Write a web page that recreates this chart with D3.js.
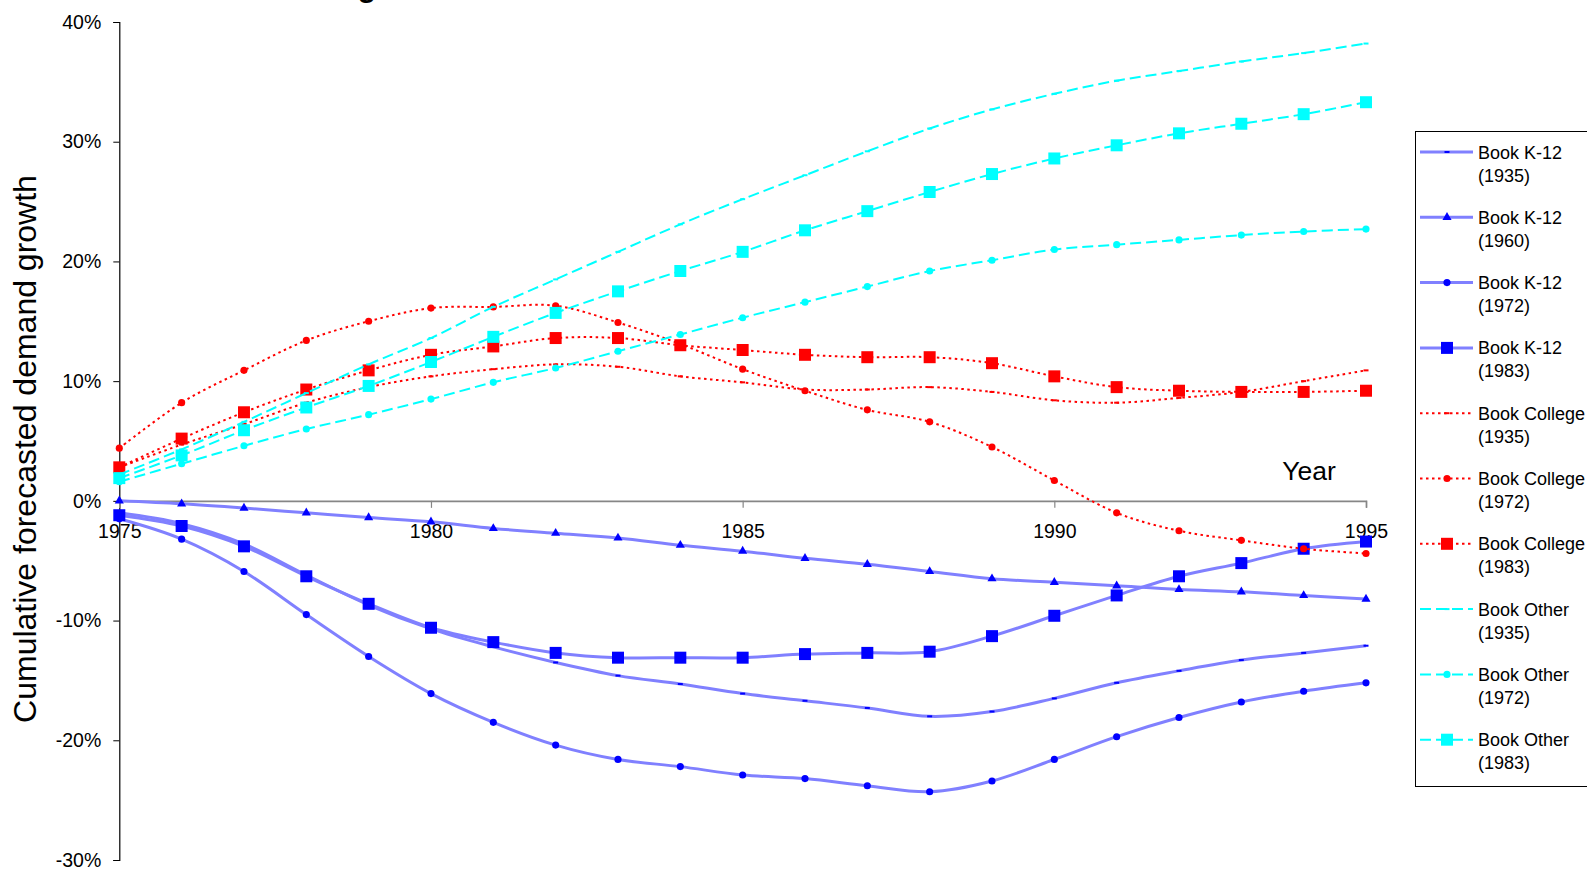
<!DOCTYPE html>
<html>
<head>
<meta charset="utf-8">
<script src="https://cdn.jsdelivr.net/npm/d3@7"></script>
<style>
  body { margin: 0; background: #fff; overflow: hidden; }
  text { font-family: "Liberation Sans", Arial, sans-serif; fill: #000; }
</style>
</head>
<body>
<svg id="chart" width="1587" height="869"></svg>
<script>
// ---- data (cumulative forecasted demand growth, %) ----
const years = [1975, 1976, 1977, 1978, 1979, 1980, 1981, 1982, 1983, 1984, 1985,
               1986, 1987, 1988, 1989, 1990, 1991, 1992, 1993, 1994, 1995];

const k12_1935 = [-1.0, -1.9, -3.6, -6.2, -8.7, -10.7, -12.2, -13.5, -14.6, -15.3, -16.1,
                  -16.7, -17.3, -18.0, -17.6, -16.5, -15.2, -14.2, -13.3, -12.7, -12.1];
const k12_1960 = [0.0, -0.25, -0.6, -1.0, -1.4, -1.75, -2.3, -2.7, -3.1, -3.7, -4.2,
                  -4.8, -5.3, -5.9, -6.5, -6.8, -7.1, -7.4, -7.6, -7.9, -8.2];
const k12_1972 = [-1.5, -3.2, -5.9, -9.5, -13.0, -16.1, -18.5, -20.4, -21.6, -22.2, -22.9,
                  -23.2, -23.8, -24.3, -23.4, -21.6, -19.7, -18.1, -16.8, -15.9, -15.2];
const k12_1983 = [-1.2, -2.1, -3.8, -6.3, -8.6, -10.6, -11.8, -12.7, -13.1, -13.1, -13.1,
                  -12.8, -12.7, -12.6, -11.3, -9.6, -7.9, -6.3, -5.2, -4.0, -3.4];
const college_1935 = [2.8, 4.7, 6.4, 8.2, 9.5, 10.4, 11.0, 11.4, 11.2, 10.4, 9.9,
                      9.3, 9.3, 9.5, 9.1, 8.4, 8.2, 8.6, 9.1, 10.0, 10.9];
const college_1972 = [4.4, 8.2, 10.9, 13.4, 15.0, 16.1, 16.2, 16.3, 14.9, 13.1, 11.0,
                      9.2, 7.6, 6.6, 4.5, 1.7, -1.0, -2.5, -3.3, -4.0, -4.4];
const college_1983 = [2.8, 5.2, 7.4, 9.3, 10.9, 12.2, 12.9, 13.6, 13.6, 13.0, 12.6,
                      12.2, 12.0, 12.0, 11.5, 10.4, 9.5, 9.2, 9.1, 9.1, 9.2];
const other_1935 = [2.2, 4.3, 6.6, 9.0, 11.4, 13.6, 16.2, 18.5, 20.8, 23.1, 25.2,
                    27.2, 29.2, 31.1, 32.7, 34.0, 35.1, 35.9, 36.7, 37.4, 38.2];
const other_1972 = [1.6, 3.1, 4.6, 6.0, 7.2, 8.5, 9.9, 11.1, 12.5, 13.9, 15.3,
                    16.6, 17.9, 19.2, 20.1, 21.0, 21.4, 21.8, 22.2, 22.5, 22.7];
const other_1983 = [1.9, 3.8, 5.9, 7.8, 9.6, 11.6, 13.7, 15.7, 17.5, 19.2, 20.8,
                    22.6, 24.2, 25.8, 27.3, 28.6, 29.7, 30.7, 31.5, 32.3, 33.3];

const seriesNames = ["Book K-12", "Book K-12", "Book K-12", "Book K-12",
                     "Book College", "Book College", "Book College",
                     "Book Other", "Book Other", "Book Other"];
const seriesVintages = ["(1935)", "(1960)", "(1972)", "(1983)",
                        "(1935)", "(1972)", "(1983)",
                        "(1935)", "(1972)", "(1983)"];
const seriesValues = [k12_1935, k12_1960, k12_1972, k12_1983,
                      college_1935, college_1972, college_1983,
                      other_1935, other_1972, other_1983];
const seriesGroup = ["k12", "k12", "k12", "k12", "college", "college", "college", "other", "other", "other"];
const seriesMarker = ["dash", "triangle", "circle", "square",
                      "dash", "circle", "square",
                      "dash", "circle", "square"];

const yTicks = [-30, -20, -10, 0, 10, 20, 30, 40];
const xTicks = [1975, 1980, 1985, 1990, 1995];

// ---- styles per group ----
const groupStyle = {
  k12:     { stroke: "#8080ff", width: 3, dash: null,      marker: "#0000ff" },
  college: { stroke: "#ff0000", width: 2, dash: "2.5,3.5", marker: "#ff0000" },
  other:   { stroke: "#00ffff", width: 2, dash: "11,5",    marker: "#00ffff" }
};

const svg = d3.select("#chart");

const x = d3.scaleLinear().domain([1975, 1995]).range([119.3, 1366]);
const y = d3.scaleLinear().domain([-30, 40]).range([860, 22]);

// title (sits mostly above the visible area)
svg.append("text")
  .attr("x", 376).attr("y", -3)
  .attr("text-anchor", "end")
  .style("font-size", "30px").style("font-weight", "bold")
  .text("Book demand forecasting");

// y axis
const yAxis = svg.append("g")
  .attr("transform", `translate(${x(1975)},0)`)
  .call(d3.axisLeft(y).tickValues(yTicks).tickFormat(d => d + "%").tickSize(6).tickPadding(12));
yAxis.select(".domain").attr("stroke", "#000").attr("stroke-width", 1.2);
yAxis.selectAll(".tick line").attr("stroke", "#000");
yAxis.selectAll("text").style("font-size", "19.5px").attr("font-family", null);

// x axis at 0%
const xAxis = svg.append("g")
  .attr("transform", `translate(0,${y(0)})`)
  .call(d3.axisBottom(x).tickValues(xTicks).tickFormat(d3.format("d")).tickSize(7));
xAxis.select(".domain").attr("stroke", "#868686").attr("stroke-width", 1.6);
xAxis.selectAll(".tick line").attr("stroke", "#868686").attr("stroke-width", 1.2);
xAxis.selectAll("text").attr("y", 37).attr("dy", 0).style("font-size", "19.5px").attr("font-family", null);

// axis titles
svg.append("text")
  .attr("transform", "translate(36,449) rotate(-90)")
  .attr("text-anchor", "middle")
  .style("font-size", "32px")
  .text("Cumulative forecasted demand growth");

svg.append("text")
  .attr("x", 1309).attr("y", 480)
  .attr("text-anchor", "middle")
  .style("font-size", "26.5px")
  .text("Year");

// marker drawing helper
function drawMarker(sel, kind, color) {
  if (kind === "dash") {
    sel.append("rect").attr("x", -2.5).attr("y", -1).attr("width", 5).attr("height", 2).attr("fill", color);
  } else {
    const t = kind === "triangle" ? d3.symbolTriangle : kind === "circle" ? d3.symbolCircle : d3.symbolSquare;
    const s = kind === "triangle" ? 36 : kind === "circle" ? 40 : 144;
    sel.append("path").attr("d", d3.symbol().type(t).size(s)()).attr("fill", color);
  }
}

const line = d3.line()
  .x((d, i) => x(years[i]))
  .y(d => y(d))
  .curve(d3.curveCatmullRom.alpha(0));

const plot = svg.append("g");
seriesValues.forEach((vals, si) => {
  const st = groupStyle[seriesGroup[si]];
  const g = plot.append("g");
  g.append("path")
    .attr("d", line(vals))
    .attr("fill", "none")
    .attr("stroke", st.stroke)
    .attr("stroke-width", st.width)
    .attr("stroke-dasharray", st.dash);
  vals.forEach((v, i) => {
    const m = g.append("g").attr("transform", `translate(${x(years[i])},${y(v)})`);
    drawMarker(m, seriesMarker[si], st.marker);
  });
});

// legend
const legend = svg.append("g");
legend.append("rect")
  .attr("x", 1415.5).attr("y", 131.5)
  .attr("width", 400).attr("height", 655)
  .attr("fill", "#fff").attr("stroke", "#000").attr("stroke-width", 1);

seriesNames.forEach((name, si) => {
  const st = groupStyle[seriesGroup[si]];
  const cy = 152 + si * 65.3;
  const item = legend.append("g").attr("transform", `translate(0,${cy})`);
  item.append("line")
    .attr("x1", 1420).attr("x2", 1473).attr("y1", 0).attr("y2", 0)
    .attr("stroke", st.stroke).attr("stroke-width", st.width)
    .attr("stroke-dasharray", st.dash);
  drawMarker(item.append("g").attr("transform", "translate(1447,0)"), seriesMarker[si], st.marker);
  item.append("text").attr("x", 1460 + 18).attr("y", 6.5).style("font-size", "18px").text(name);
  item.append("text").attr("x", 1460 + 18).attr("y", 29.5).style("font-size", "18px").text(seriesVintages[si]);
});
</script>
</body>
</html>
